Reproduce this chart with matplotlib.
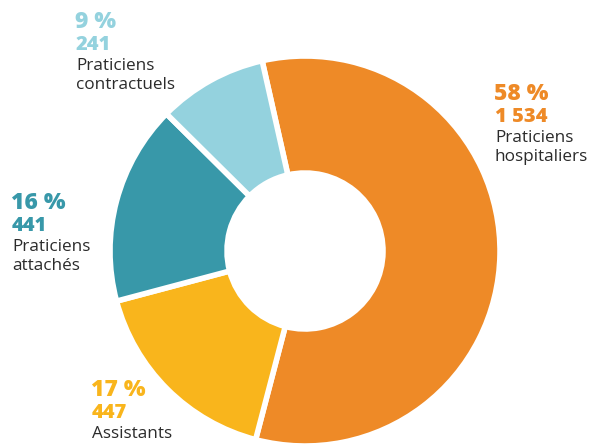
import matplotlib
matplotlib.use("Agg")
import matplotlib.pyplot as plt

# effectifs par statut
labels = ["Praticiens\nhospitaliers", "Assistants", "Praticiens\nattachés", "Praticiens\ncontractuels"]
counts = [1534, 447, 441, 241]
pcts = [58, 17, 16, 9]
colors = ["#EE8A27", "#F9B51C", "#3898A9", "#94D2DE"]

plt.rcParams["font.family"] = ["Open Sans", "DejaVu Sans"]

W, H = 598, 444
fig = plt.figure(figsize=(W / 100, H / 100), dpi=100)

# donut centred at (305, 251) px, outer radius 195 px
cx, cy, r = 305, 251, 195
ax = fig.add_axes([(cx - r) / W, (H - cy - r) / H, 2 * r / W, 2 * r / H])
ax.pie(counts, colors=colors, startangle=102.7, counterclock=False,
       radius=1, wedgeprops=dict(width=0.6, edgecolor="white", linewidth=4))
ax.set_xlim(-1, 1)
ax.set_ylim(-1, 1)
ax.set_aspect("equal")
ax.axis("off")


def fmt(n):
    return f"{n:,}".replace(",", " ")


def px(x, y):
    return x / W, 1 - y / H


# label blocks: left x, baseline of the percent line
anchors = [(494, 100), (91, 396), (11, 209), (75, 28)]

for lab, n, p, c, (x, y) in zip(labels, counts, pcts, colors, anchors):
    fig.text(*px(x, y), f"{p} %", color=c, fontsize=16.5, fontweight="heavy", va="baseline")
    fig.text(*px(x + 1, y + 22), fmt(n), color=c, fontsize=14.5, fontweight="heavy", va="baseline")
    for i, line in enumerate(lab.split("\n")):
        fig.text(*px(x + 1, y + 42 + i * 19), line, color="#2b2b2b", fontsize=12.3, va="baseline")

fig.savefig("out.png", dpi=100)
